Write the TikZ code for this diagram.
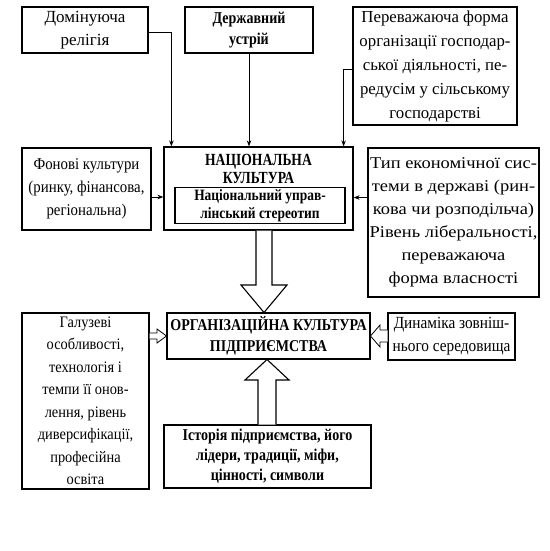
\documentclass[tikz,border=0pt]{standalone}
\usepackage{fontspec}
\setmainfont{Liberation Serif}
\newfontfamily\rfont[FakeStretch=0.9]{Liberation Serif}
\newfontfamily\rfontB[FakeStretch=1.0]{Liberation Serif}
\newfontfamily\rfontC[FakeStretch=1.12]{Liberation Serif}
\newfontfamily\bfontf[FakeStretch=0.8]{Liberation Serif Bold}
\newfontfamily\bfontg[FakeStretch=0.85]{Liberation Serif Bold}
\usetikzlibrary{arrows.meta}
\begin{document}
\begin{tikzpicture}[x=1pt,y=-1pt,
  box/.style={draw, line width=1.2pt, inner sep=0pt, align=center, font=\rfont\fontsize{16.5}{23}\selectfont},
  bbox/.style={box, font=\bfontg\fontsize{16.5}{20}\selectfont},
  arr/.style={line width=0.9pt, -{Stealth[length=6pt,width=4.5pt]}},
  blk/.style={draw, line width=1.1pt, fill=white, line join=miter}]
\useasboundingbox (0,0) rectangle (549,551);
% top row
\node[box, minimum width=126pt, minimum height=46pt, font=\rfontB\fontsize{17}{23}\selectfont] (rel) at (85,30) {Домінуюча\\релігія};
\node[bbox, minimum width=128pt, minimum height=46pt, font=\bfontg\fontsize{16.5}{21}\selectfont] (state) at (249,30) {Державний\\устрій};
\node[box, minimum width=164pt, minimum height=118pt, font=\rfontB\fontsize{16.8}{24}\selectfont] (form) at (435,66) {Переважаюча форма\\організації господар-\\ської діяльності, пе-\\редусім у сільському\\господарстві};
% middle row
\node[box, minimum width=129pt, minimum height=82pt] (fon) at (86.5,189) {Фонові культури\\(ринку, фінансова,\\регіональна)};
\node[draw, line width=1.2pt, minimum width=189pt, minimum height=83pt] (nat) at (258.5,188.5) {};
\node[font=\bfontf\fontsize{17}{17.5}\selectfont, align=center, inner sep=0pt] (natt) at (258.5,169) {НАЦІОНАЛЬНА\\КУЛЬТУРА};
\node[bbox, minimum width=170pt, minimum height=36pt, font=\bfontg\fontsize{15.8}{18}\selectfont] (inner) at (260,205.5) {Національний управ-\\лінський стереотип};
\node[box, minimum width=171pt, minimum height=149pt, font=\rfontC\fontsize{16.5}{23}\selectfont] (typ) at (453.5,222.5) {Тип економічної сис-\\теми в державі (рин-\\кова чи розподільча)\\Рівень ліберальності,\\переважаюча\\форма власності};
% lower row
\node[bbox, minimum width=203pt, minimum height=46pt, font=\bfontg\fontsize{16.5}{21}\selectfont] (org) at (268.5,336) {ОРГАНІЗАЦІЙНА КУЛЬТУРА\\ПІДПРИЄМСТВА};
\node[box, minimum width=127pt, minimum height=176pt, font=\rfont\fontsize{16}{22.5}\selectfont] (gal) at (85.5,401) {Галузеві\\особливості,\\технологія і\\темпи її онов-\\лення, рівень\\диверсифікації,\\професійна\\освіта};
\node[box, minimum width=127pt, minimum height=47pt, font=\rfont\fontsize{17}{23}\selectfont] (dyn) at (451.5,336.5) {Динаміка зовніш-\\нього середовища};
\node[bbox, minimum width=207pt, minimum height=63pt] (hist) at (267.5,456.5) {Історія підприємства, його\\лідери, традиції, міфи,\\цінності, символи};
% connectors
\draw[arr] ([yshift=-2pt]rel.east) -| ([xshift=8pt]nat.north west);
\draw[arr] (state.south) -- (state.south |- nat.north);
\draw[arr] ([yshift=-3pt]form.west) -| ([xshift=-10pt]nat.north east);
\path ([yshift=-8pt]fon.east) coordinate (f1);
\draw[arr] (f1) -- (f1 -| nat.west);
\path ([yshift=25pt]typ.west) coordinate (t1);
\draw[arr] (t1) -- (t1 -| nat.east);
% block arrow down
\draw[blk] (256,230.5) -- (256,285) -- (241,285) -- (264,312.5) -- (287,285) -- (272,285) -- (272,230.5);
% block arrow up
\draw[blk] (258,424.5) -- (258,380) -- (245,380) -- (267,359.5) -- (289,380) -- (276,380) -- (276,424.5);
% small hollow arrows
\draw[blk, line width=0.8pt] (149.5,333) -- (157,333) -- (157,329) -- (166.5,336) -- (157,343) -- (157,339) -- (149.5,339);
\draw[blk, line width=0.8pt] (387.5,330) -- (380,330) -- (380,325) -- (370.5,336) -- (380,347) -- (380,342) -- (387.5,342);
\end{tikzpicture}
\end{document}
